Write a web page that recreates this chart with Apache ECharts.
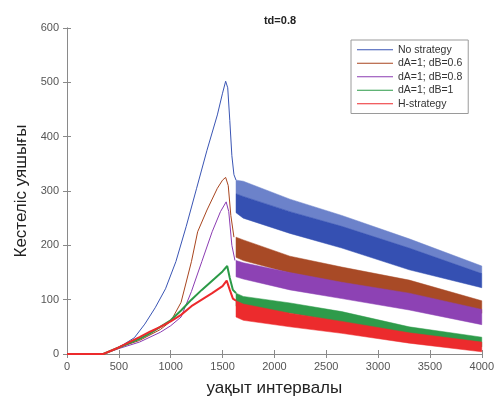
<!DOCTYPE html>
<html>
<head>
<meta charset="utf-8">
<script src="https://cdn.jsdelivr.net/npm/echarts@6/dist/echarts.min.js"></script>
<style>
  html, body { margin: 0; padding: 0; background: #fff; }
  #chart { width: 497px; height: 405px; }
</style>
</head>
<body>
<div id="chart"></div>
<script>
// ---- data ----
const names = ['No strategy', 'dA=1; dB=0.6', 'dA=1; dB=0.8', 'dA=1; dB=1', 'H-strategy'];
const colors = ['#3a55b4', '#a8451f', '#8b3cb2', '#2b9a47', '#ec2a2c'];

// rising part (x, y) before the peak
const noStratRise = [[0,0],[350,0],[450,8],[550,18],[650,30],[750,55],[850,85],[950,120],[1050,170],[1150,235],[1250,305],[1350,375],[1450,440],[1500,480],[1530,502],[1550,490],[1570,430],[1590,365],[1610,330],[1630,320]];
const dB06Rise = [[0,0],[350,0],[500,12],[700,25],[900,45],[1000,60],[1100,95],[1200,170],[1260,225],[1350,265],[1450,305],[1500,320],[1530,325],[1555,310],[1580,255],[1610,215]];
const dB08Rise = [[0,0],[350,0],[500,10],[700,22],[900,40],[1000,52],[1100,68],[1200,115],[1300,170],[1400,225],[1480,262],[1535,280],[1560,262],[1590,200],[1620,172]];
const dB1Rise = [[0,0],[350,0],[500,12],[600,20],[700,28],[800,38],[900,50],[1000,62],[1100,80],[1200,100],[1300,118],[1400,135],[1500,152],[1545,162],[1570,140],[1600,118],[1630,112]];
const hStratRise = [[0,0],[350,0],[500,12],[600,22],[700,31],[800,41],[900,50],[1000,60],[1100,72],[1200,88],[1300,100],[1400,112],[1500,125],[1540,135],[1570,118],[1600,102],[1630,98]];

// noisy decay band after the peak: lower / upper envelope
const bandX = [1630, 1700, 2150, 2650, 3300, 4000];
const noStratLow  = [260, 250, 222, 195, 155, 122];
const noStratMid  = [295, 290, 262, 235, 195, 148];
const noStratHigh = [320, 318, 285, 255, 212, 162];
const dB06Low  = [178, 172, 149, 130, 105, 75];
const dB06High = [215, 210, 180, 160, 136, 98];
const dB08Low  = [142, 138, 118, 102, 81, 54];
const dB08High = [172, 168, 150, 132, 112, 82];
const dB1Low  = [88, 82, 75, 58, 31, 13];
const dB1High = [112, 106, 94, 78, 50, 31];
const hStratLow  = [68, 62, 50, 38, 20, 4];
const hStratHigh = [98, 92, 75, 60, 39, 22];

const xTicks = { min: 0, max: 4000, interval: 500 };
const yTicks = { min: 0, max: 600, interval: 100 };

// ---- build series ----
const rises = [noStratRise, dB06Rise, dB08Rise, dB1Rise, hStratRise];
const riseWidth = [1, 1, 1, 2, 2];

let series = [];
rises.forEach((r, i) => {
  series.push({
    name: names[i], type: 'line', data: r, showSymbol: false,
    lineStyle: { color: colors[i], width: riseWidth[i] },
    itemStyle: { color: colors[i] }, z: 3
  });
});

// filled band between two envelopes, drawn as one polygon via the axis scales
function band(i, low, high, fill) {
  series.push({
    name: names[i], type: 'custom', coordinateSystem: 'cartesian2d',
    data: [[bandX[0], low[0]]], silent: true, z: 2,
    itemStyle: { color: colors[i] },
    renderItem: function (params, api) {
      const pts = [];
      bandX.forEach((x, k) => pts.push(api.coord([x, high[k]])));
      for (let k = bandX.length - 1; k >= 0; k--) pts.push(api.coord([bandX[k], low[k]]));
      return { type: 'polygon', shape: { points: pts }, style: { fill: fill, stroke: fill, lineWidth: 0.5 } };
    }
  });
}
band(0, noStratMid, noStratHigh, '#6c82ca');
band(0, noStratLow, noStratMid, '#3550b2');
band(1, dB06Low, dB06High, '#a84a26');
band(2, dB08Low, dB08High, '#8d42b4');
band(3, dB1Low, dB1High, '#2e9b4a');
band(4, hStratLow, hStratHigh, '#ec2b2d');

const gray = '#8a8a8a';
const font = 'Liberation Sans, Arial, sans-serif';

const chart = echarts.init(document.getElementById('chart'), null, { renderer: 'canvas' });
chart.setOption({
  animation: false,
  backgroundColor: '#fff',
  title: {
    text: 'td=0.8', left: 275, top: 10, textAlign: 'center',
    textStyle: { fontSize: 11, fontWeight: 'bold', color: '#222', fontFamily: font }
  },
  grid: { left: 67, right: 15, top: 28, bottom: 51 },
  legend: {
    data: names.map((n, i) => ({ name: n, itemStyle: { color: colors[i] } })),
    orient: 'vertical', left: 351, top: 40,
    backgroundColor: '#fff', borderColor: '#9a9a9a', borderWidth: 1, borderRadius: 0,
    padding: [3, 6, 3, 6], itemGap: 0, itemWidth: 36, itemHeight: 1,
    icon: 'rect',
    textStyle: { fontSize: 10.5, lineHeight: 13.5, color: '#333', fontFamily: font }
  },
  xAxis: [{
    type: 'value', ...xTicks,
    name: 'уақыт интервалы', nameLocation: 'middle', nameGap: 26,
    nameTextStyle: { fontSize: 17, color: '#222', fontFamily: font },
    axisLine: { lineStyle: { color: gray } },
    axisTick: { inside: true, length: 4, lineStyle: { color: gray } },
    axisLabel: { fontSize: 11, color: '#555', fontFamily: font, margin: 7, formatter: v => String(v) },
    splitLine: { show: false }
  }, {
    type: 'value', ...xTicks, position: 'top',
    axisLine: { show: true, lineStyle: { color: gray } },
    axisTick: { inside: true, length: 4, lineStyle: { color: gray } },
    axisLabel: { show: false }, splitLine: { show: false }
  }],
  yAxis: [{
    type: 'value', ...yTicks,
    name: 'Кестеліс уяшығы', nameLocation: 'middle', nameGap: 36,
    nameTextStyle: { fontSize: 17, color: '#222', fontFamily: font },
    axisLine: { show: true, lineStyle: { color: gray } },
    axisTick: { show: true, inside: true, length: 4, lineStyle: { color: gray } },
    axisLabel: { fontSize: 11, color: '#555', fontFamily: font, margin: 8, formatter: v => String(v) },
    splitLine: { show: false }
  }, {
    type: 'value', ...yTicks, position: 'right',
    axisLine: { show: true, lineStyle: { color: gray } },
    axisTick: { show: true, inside: true, length: 4, lineStyle: { color: gray } },
    axisLabel: { show: false }, splitLine: { show: false }
  }],
  series: series
});
</script>
</body>
</html>
